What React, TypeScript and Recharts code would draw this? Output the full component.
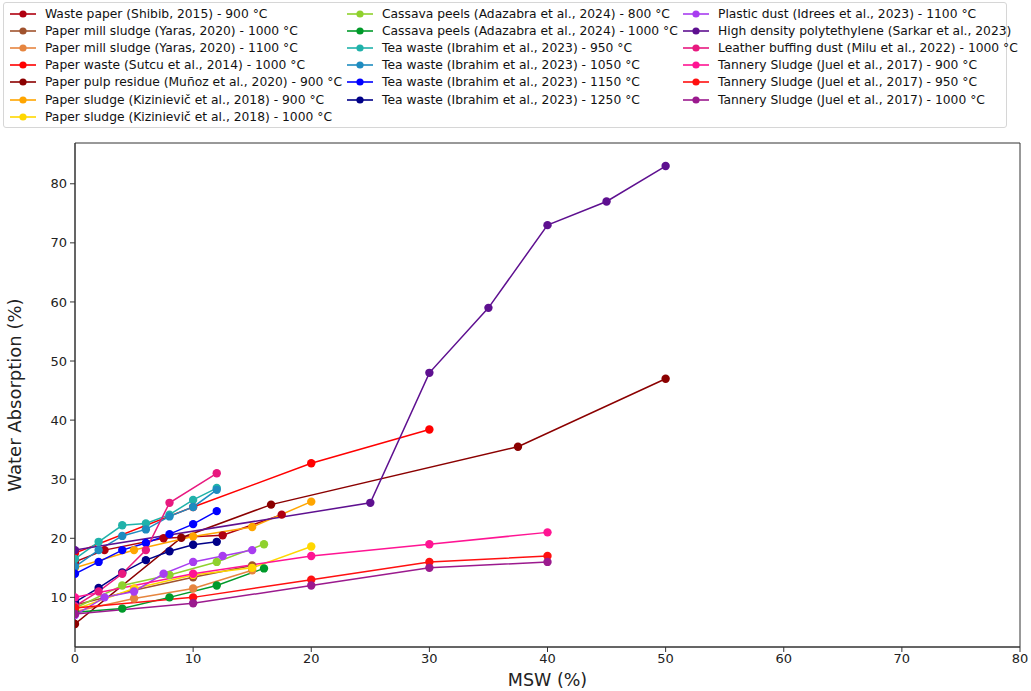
import React from 'react';
import { LineChart, Line, XAxis, YAxis, ReferenceArea } from 'recharts';

// x values (MSW %) shared per study
const xShibib = [0, 2.5, 7.5, 12.5, 17.5];
const xYaras = [0, 5, 10, 15];
const xSutcu = [0, 10, 20, 30];
const xMunoz = [0, 9, 16.6, 37.5, 50];
const xKiz = [0, 5, 10, 15, 20];
const xCassava = [0, 4, 8, 12, 16];
const xTea = [0, 2, 4, 6, 8, 10, 12];
const xIdrees = [0, 2.5, 5, 7.5, 10, 12.5, 15];
const xSarkar = [0, 25, 30, 35, 40, 45, 50];
const xMilu = [0, 2, 4, 6, 8, 12];
const xJuel = [0, 10, 20, 30, 40];

// water absorption (%)
const wastePaper900 = [16, 18, 20, 20.5, 24];
const millSludge1000 = [8.7, 11.2, 13.4, 15.4];
const millSludge1100 = [7.6, 9.8, 11.5, 14.6];
const paperWaste1000 = [17.5, 25.3, 32.7, 38.4];
const pulpResidue900 = [5.5, 20.1, 25.7, 35.5, 47];
const paperSludge900 = [15, 18, 20.3, 21.9, 26.2];
const paperSludge1000 = [8, 11.5, 13.8, 15, 18.6];
const cassava800 = [8.2, 12, 13.8, 16, 19];
const cassava1000 = [7.5, 8.1, 10, 12, 14.9];
const tea950 = [16.5, 19.4, 22.2, 22.5, 24, 26.5, 28.5];
const tea1050 = [15.2, 18, 20.4, 21.5, 23.7, 25.3, 28.2];
const tea1150 = [14, 16, 18, 19.2, 20.7, 22.4, 24.6];
const tea1250 = [9.2, 11.6, 14.2, 16.3, 17.8, 18.9, 19.4];
const plasticDust1100 = [7, 10, 11, 14, 16, 17, 18];
const hdpe = [18, 26, 48, 59, 73, 77, 83];
const leatherDust1000 = [8.5, 11, 14, 18, 26, 31];
const tannery900 = [10, 14, 17, 19, 21];
const tannery950 = [8.2, 10, 13, 16, 17];
const tannery1000 = [7.2, 9, 12, 15, 16];

const xTicks = [0, 10, 20, 30, 40, 50, 60, 70, 80];
const yTicks = [10, 20, 30, 40, 50, 60, 70, 80];
const yMin = 1.6;
const yMax = 86.9;

const toPoints = (xs: number[], ys: number[]) => xs.map((x, i) => ({ x, y: ys[i] }));

const series = [
  { name: 'Waste paper (Shibib, 2015) - 900 °C', color: '#b00010', data: toPoints(xShibib, wastePaper900) },
  { name: 'Paper mill sludge (Yaras, 2020) - 1000 °C', color: '#a0522d', data: toPoints(xYaras, millSludge1000) },
  { name: 'Paper mill sludge (Yaras, 2020) - 1100 °C', color: '#e6853f', data: toPoints(xYaras, millSludge1100) },
  { name: 'Paper waste (Sutcu et al., 2014) - 1000 °C', color: '#ff0000', data: toPoints(xSutcu, paperWaste1000) },
  { name: 'Paper pulp residue (Muñoz et al., 2020) - 900 °C', color: '#8b0000', data: toPoints(xMunoz, pulpResidue900) },
  { name: 'Paper sludge (Kizinievič et al., 2018) - 900 °C', color: '#ffa500', data: toPoints(xKiz, paperSludge900) },
  { name: 'Paper sludge (Kizinievič et al., 2018) - 1000 °C', color: '#ffd700', data: toPoints(xKiz, paperSludge1000) },
  { name: 'Cassava peels (Adazabra et al., 2024) - 800 °C', color: '#8fd12e', data: toPoints(xCassava, cassava800) },
  { name: 'Cassava peels (Adazabra et al., 2024) - 1000 °C', color: '#009a2a', data: toPoints(xCassava, cassava1000) },
  { name: 'Tea waste (Ibrahim et al., 2023) - 950 °C', color: '#20b2aa', data: toPoints(xTea, tea950) },
  { name: 'Tea waste (Ibrahim et al., 2023) - 1050 °C', color: '#1e8cc0', data: toPoints(xTea, tea1050) },
  { name: 'Tea waste (Ibrahim et al., 2023) - 1150 °C', color: '#0000ff', data: toPoints(xTea, tea1150) },
  { name: 'Tea waste (Ibrahim et al., 2023) - 1250 °C', color: '#000088', data: toPoints(xTea, tea1250) },
  { name: 'Plastic dust (Idrees et al., 2023) - 1100 °C', color: '#a83df0', data: toPoints(xIdrees, plasticDust1100) },
  { name: 'High density polytethylene (Sarkar et al., 2023)', color: '#5e1090', data: toPoints(xSarkar, hdpe) },
  { name: 'Leather buffing dust (Milu et al., 2022) - 1000 °C', color: '#e8197f', data: toPoints(xMilu, leatherDust1000) },
  { name: 'Tannery Sludge (Juel et al., 2017) - 900 °C', color: '#ff1493', data: toPoints(xJuel, tannery900) },
  { name: 'Tannery Sludge (Juel et al., 2017) - 950 °C', color: '#ff1010', data: toPoints(xJuel, tannery950) },
  { name: 'Tannery Sludge (Juel et al., 2017) - 1000 °C', color: '#9b1a8e', data: toPoints(xJuel, tannery1000) },
];

const legendCols = [series.slice(0, 7), series.slice(7, 13), series.slice(13)];
const legendColX = [10, 347, 683];

const font = '"DejaVu Sans", sans-serif';

function ChartLegend() {
  return (
    <div
      style={{
        position: 'absolute', left: 3, top: 2, width: 1002, height: 124,
        border: '1px solid #d6d6d6', borderRadius: 3, background: '#fff',
      }}
    >
      {legendCols.map((col, ci) =>
        col.map((s, ri) => (
          <div
            key={s.name}
            style={{
              position: 'absolute', left: legendColX[ci] - 4, top: 2 + ri * 17.2,
              height: 17, display: 'flex', alignItems: 'center', whiteSpace: 'nowrap',
              fontFamily: font, fontSize: 12.3, color: '#111',
            }}
          >
            <svg width={26} height={10} style={{ marginRight: 9 }}>
              <line x1={0} y1={5} x2={26} y2={5} stroke={s.color} strokeWidth={1.6} />
              <circle cx={13} cy={5} r={3.6} fill={s.color} />
            </svg>
            {s.name}
          </div>
        ))
      )}
    </div>
  );
}

export default function App() {
  return (
    <div style={{ position: 'absolute', left: 0, top: 0, width: 1031, height: 691, background: '#fff' }}>
      <LineChart width={1031} height={691} margin={{ top: 143, right: 11, bottom: 0, left: 25 }}>
        <ReferenceArea x1={0} x2={80} y1={yMin} y2={yMax} fill="none" stroke="#333" strokeWidth={1} ifOverflow="visible" />
        <XAxis
          type="number"
          dataKey="x"
          domain={[0, 80]}
          ticks={xTicks}
          allowDataOverflow
          height={44}
          stroke="#333"
          tickSize={5}
          tickMargin={2}
          tick={{ fill: '#222', fontSize: 13, fontFamily: font }}
          label={{ value: 'MSW (%)', position: 'insideBottom', offset: 5, fill: '#222', fontSize: 17.5, fontFamily: font }}
        />
        <YAxis
          type="number"
          dataKey="y"
          domain={[yMin, yMax]}
          ticks={yTicks}
          allowDataOverflow
          width={50}
          stroke="#333"
          tickSize={5}
          tickMargin={3}
          tick={{ fill: '#222', fontSize: 13, fontFamily: font }}
          label={{
            content: (p: any) => {
              const vb = p.viewBox;
              const cx = vb.x - 11;
              const cy = vb.y + vb.height / 2;
              return (
                <text
                  x={cx} y={cy} transform={`rotate(-90, ${cx}, ${cy})`}
                  textAnchor="middle" dominantBaseline="central"
                  fill="#222" fontSize={18} fontFamily={font}
                >
                  Water Absorption (%)
                </text>
              );
            },
          }}
        />
        {series.map((s) => (
          <Line
            key={s.name}
            data={s.data}
            dataKey="y"
            name={s.name}
            type="linear"
            stroke={s.color}
            strokeWidth={1.5}
            dot={{ r: 4.2, fill: s.color, stroke: s.color, strokeWidth: 0 }}
            activeDot={false}
            isAnimationActive={false}
          />
        ))}
      </LineChart>
      <ChartLegend />
    </div>
  );
}
